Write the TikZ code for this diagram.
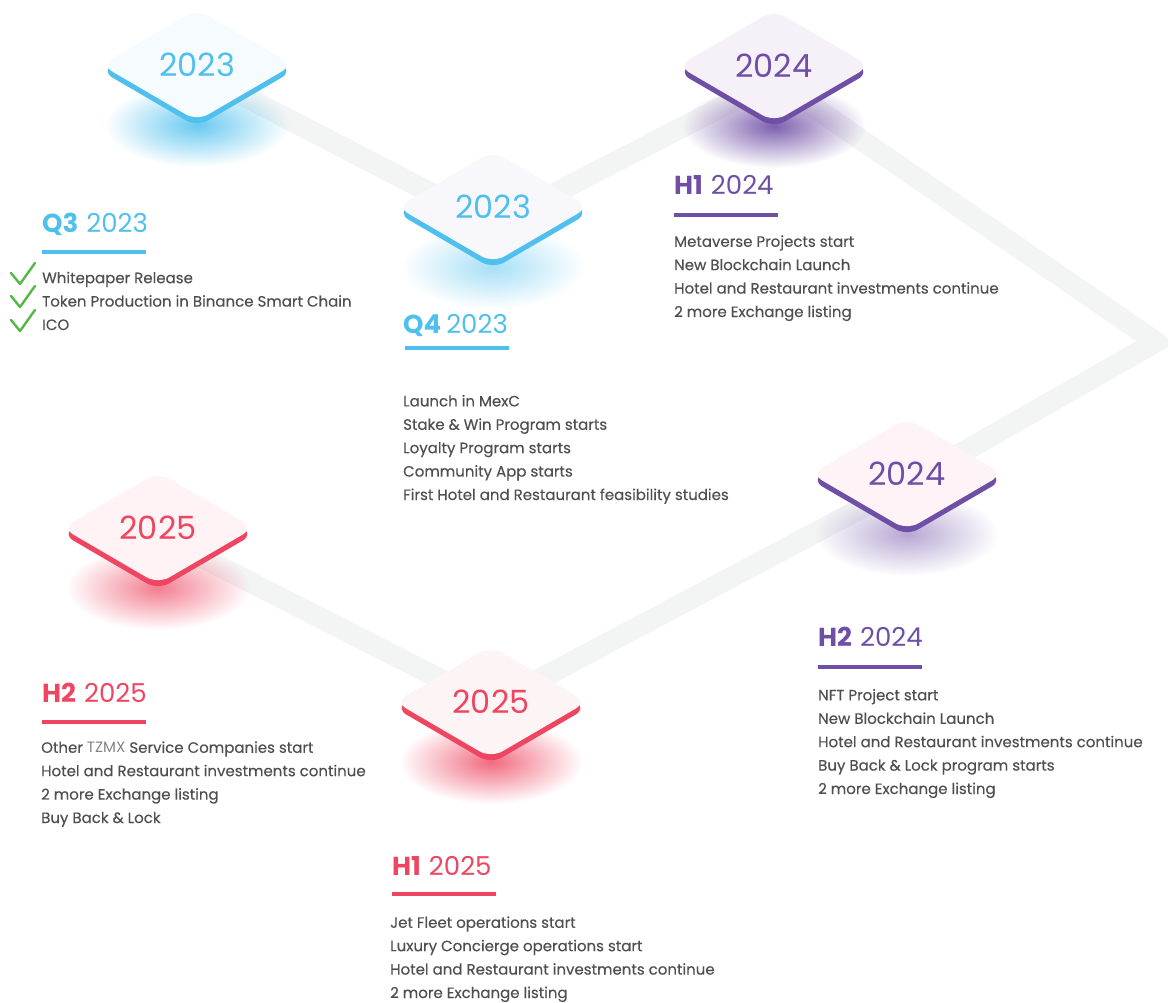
\documentclass[tikz,border=0pt]{standalone}
\usepackage{fontspec}
\setmainfont{Poppins}
\newfontfamily\itemfont{Poppins}[FakeBold=0.3]
\usetikzlibrary{shapes.geometric,fadings}

\definecolor{bluec}{HTML}{4FC0EE}
\definecolor{purplec}{HTML}{6F4FA6}
\definecolor{redc}{HTML}{EE4660}
\definecolor{textc}{HTML}{4F4F4F}
\definecolor{trackc}{HTML}{F3F4F4}
\definecolor{tickc}{HTML}{55B947}
\definecolor{faceA}{HTML}{F5FBFE}
\definecolor{faceB}{HTML}{F7F7FC}
\definecolor{faceC}{HTML}{F6F1F8}
\definecolor{faceD}{HTML}{FEF4F8}
\definecolor{faceE}{HTML}{FFF3F6}
\definecolor{faceF}{HTML}{FDF4F6}

\tikzfading[name=glowfade, inner color=transparent!0, outer color=transparent!100]

\tikzset{
  track/.style={draw=trackc, line width=21pt, line join=miter},
  yearbox/.style={diamond, minimum width=192pt, minimum height=112pt, inner sep=0pt,
    rounded corners=13pt, font=\fontsize{32}{32}\selectfont},
  heading/.style={anchor=base west, inner sep=0pt, font=\fontsize{26}{26}\selectfont},
  items/.style={anchor=base west, inner sep=0pt, align=left, text=textc,
    font=\itemfont\fontsize{15}{23.4}\selectfont},
  rule/.style={line width=4pt},
  tick/.style={draw=tickc, line width=2.4pt, line join=round, line cap=round}
}

\begin{document}
\begin{tikzpicture}[x=1pt, y=-1pt]
\useasboundingbox (0,0) rectangle (1168,1003);

% diamond centres
\coordinate (c1) at (197,65);
\coordinate (c2) at (493,207);
\coordinate (c3) at (774,66);
\coordinate (c4) at (907,474);
\coordinate (c5) at (158,528);
\coordinate (c6) at (491,702);

% track behind the diamonds
\coordinate (t1) at (197,72);
\coordinate (t2) at (493,225);
\coordinate (t3) at (774,80);
\coordinate (bend) at (1156,342);
\coordinate (t4) at (907,484);
\coordinate (t6) at (491,705);
\coordinate (t5) at (158,535);
\draw[track] (t1) -- (t2) -- (t3) -- (bend) -- (t4) -- (t6) -- (t5);

\foreach \i/\c/\f/\t/\g in {1/bluec/faceA/2023/0.85, 2/bluec/faceB/2023/0.5,
    3/purplec/faceC/2024/0.9, 4/purplec/faceD/2024/0.5,
    5/redc/faceE/2025/0.7, 6/redc/faceF/2025/0.8} {
  \fill[\c, opacity=\g, path fading=glowfade] ([yshift=-60pt]c\i) ellipse [x radius=92pt, y radius=42pt];
  \node[yearbox, fill=\c, yshift=-6pt] at (c\i) {};
  \node[yearbox, fill=\f, text=\c] (d\i) at (c\i) {\t};
}

% Q3 2023 (lists are placed at the baseline of their last line)
\node[heading, text=bluec] (q3head) at (42,233) {\textbf{Q3}\hspace{8pt}2023};
\draw[rule, bluec] (42,252) -- (146,252);
\node[items] (q3list) at (42,330) {Whitepaper Release\\Token Production in Binance Smart Chain\\ICO};
\draw[tick] (11,273) -- (20,284) -- (35,263);
\draw[tick] (11,296) -- (20,307) -- (35,286);
\draw[tick] (11,320) -- (20,331) -- (35,310);

% Q4 2023
\node[heading, text=bluec] (q4head) at (403,334) {\textbf{Q4}\hspace{5pt}2023};
\draw[rule, bluec] (405,348) -- (509,348);
\node[items] (q4list) at (403,500) {Launch in MexC\\Stake \& Win Program starts\\Loyalty Program starts\\Community App starts\\First Hotel and Restaurant feasibility studies};

% H1 2024
\node[heading, text=purplec] (h1ahead) at (674,195) {\textbf{H1}\hspace{8pt}2024};
\draw[rule, purplec] (674,215) -- (778,215);
\node[items] (h1alist) at (674,317) {Metaverse Projects start\\New Blockchain Launch\\Hotel and Restaurant investments continue\\2 more Exchange listing};

% H2 2024
\node[heading, text=purplec] (h2ahead) at (818,646) {\textbf{H2}\hspace{8pt}2024};
\draw[rule, purplec] (818,667) -- (922,667);
\node[items] (h2alist) at (818,794) {NFT Project start\\New Blockchain Launch\\Hotel and Restaurant investments continue\\Buy Back \& Lock program starts\\2 more Exchange listing};

% H2 2025
\node[heading, text=redc] (h2bhead) at (42,702) {\textbf{H2}\hspace{8pt}2025};
\draw[rule, redc] (42,722) -- (146,722);
\node[items] (h2blist) at (41,823) {Other {\setmainfont{Poppins}\color{textc!70}TZMX} Service Companies start\\Hotel and Restaurant investments continue\\2 more Exchange listing\\Buy Back \& Lock};

% H1 2025
\node[heading, text=redc] (h1bhead) at (392,875) {\textbf{H1}\hspace{8pt}2025};
\draw[rule, redc] (392,894) -- (496,894);
\node[items] (h1blist) at (390,998) {Jet Fleet operations start\\Luxury Concierge operations start\\Hotel and Restaurant investments continue\\2 more Exchange listing};
\end{tikzpicture}
\end{document}
